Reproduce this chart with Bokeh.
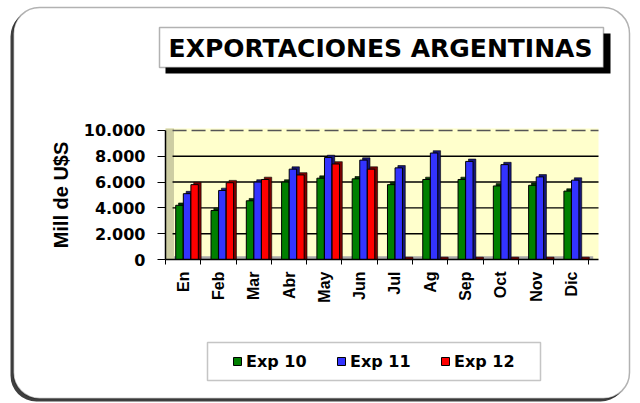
import math
from bokeh.plotting import figure
from bokeh.models import Range1d, FixedTicker, BoxAnnotation, Label, LinearAxis
from bokeh.embed import file_html
from bokeh.resources import INLINE

# ---- data ----
months = ["En", "Feb", "Mar", "Abr", "May", "Jun", "Jul", "Ag", "Sep", "Oct", "Nov", "Dic"]
exp10 = [4200, 3800, 4550, 6000, 6300, 6250, 5800, 6200, 6200, 5700, 5750, 5300]
exp11 = [5100, 5350, 6000, 7000, 7900, 7700, 7100, 8250, 7600, 7350, 6400, 6150]
exp12 = [5800, 5950, 6200, 6550, 7400, 7000, 0, 0, 0, 0, 0, 0]
series_names = ["Exp 10", "Exp 11", "Exp 12"]
ytick_values = [0, 2000, 4000, 6000, 8000, 10000]
ytick_labels = ["0", "2.000", "4.000", "6.000", "8.000", "10.000"]
title_text = "EXPORTACIONES ARGENTINAS"
ylabel_text = "Mill de U$S"

# ---- layout (canvas pixels) ----
W, H = 640, 403
FX0, FX1 = 165, 598          # chart wall left/right
FY0, FY1 = 259, 128          # chart floor / wall top
XMAX, YMAX = 12.27, 10150
PXX = (FX1 - FX0) / XMAX
PXY = (FY0 - FY1) / YMAX


def dx(px):
    return (px - FX0) / PXX


def dy(py):
    return (FY0 - py) / PXY


p = figure(width=W, height=H, x_range=Range1d(dx(0), dx(W)), y_range=Range1d(dy(H), dy(0)),
           output_backend="svg", toolbar_location=None, x_axis_type=None, y_axis_type=None,
           min_border=0)
p.title.visible = False
p.outline_line_color = None
p.background_fill_color = "white"
p.border_fill_color = "white"
p.xgrid.visible = False
p.ygrid.visible = False

# outer rounded card with shadow
p.add_layout(BoxAnnotation(left=dx(10), right=dx(626), top=dy(10), bottom=dy(401),
                           fill_color="#2a2a2a", fill_alpha=0.9, line_color=None,
                           border_radius=26, level="underlay"))
p.add_layout(BoxAnnotation(left=dx(13), right=dx(629), top=dy(7), bottom=dy(398),
                           fill_color="white", fill_alpha=1, line_color="black",
                           line_width=1.5, border_radius=26, level="underlay"))
# chart wall, side wall, floor
p.add_layout(BoxAnnotation(left=0, right=XMAX, top=YMAX, bottom=0,
                           fill_color="#FFFFCC", fill_alpha=1, line_color=None, level="underlay"))
p.add_layout(BoxAnnotation(left=0, right=0.24, top=YMAX, bottom=0,
                           fill_color="#CDCDA3", fill_alpha=1, line_color=None, level="underlay"))
p.add_layout(BoxAnnotation(left=0.24, right=XMAX - 0.15, top=260, bottom=0,
                           fill_color="#A8A8A8", fill_alpha=1, line_color=None, level="underlay"))
# title box with shadow
p.add_layout(BoxAnnotation(left=dx(165), right=dx(610), top=dy(33), bottom=dy(73),
                           fill_color="black", fill_alpha=1, line_color=None, level="underlay"))
p.add_layout(BoxAnnotation(left=dx(159), right=dx(603), top=dy(27), bottom=dy(67),
                           fill_color="white", fill_alpha=1, line_color="black", line_width=1.5,
                           level="underlay"))
# legend box
p.add_layout(BoxAnnotation(left=dx(207), right=dx(540), top=dy(342), bottom=dy(380),
                           fill_color="white", fill_alpha=1, line_color="#404040", line_width=1.5,
                           level="underlay"))

# grid lines on the wall
grid_vals = ytick_values[1:-1]
p.segment(x0=[0.2] * len(grid_vals), x1=[XMAX] * len(grid_vals), y0=grid_vals, y1=grid_vals,
          line_color="black", line_width=1.4)
p.segment(x0=[0.2], x1=[XMAX], y0=[ytick_values[-1]], y1=[ytick_values[-1]],
          line_color="#555555", line_width=1.5, line_dash="14 5")

# bars
colors = ["#008000", "#3333FF", "#FF0000"]
sides = ["#003A00", "#16167A", "#7A0000"]
offsets = [0.395, 0.61, 0.825]
for vals, name, c, s, off in zip([exp10, exp11, exp12], series_names, colors, sides, offsets):
    xs = [i + off for i in range(len(months))]
    p.vbar(x=[x + 0.08 for x in xs], bottom=0, top=[v + 180 for v in vals], width=0.21,
           fill_color=s, line_color="black", line_width=0.6)
    p.vbar(x=xs, bottom=0, top=vals, width=0.21, fill_color=c, line_color="black",
           line_width=1, legend_label=name)

# axes
yax = LinearAxis(fixed_location=0, bounds=(0, ytick_values[-1]))
yax.ticker = FixedTicker(ticks=ytick_values)
yax.major_label_overrides = {v: t for v, t in zip(ytick_values, ytick_labels)}
yax.major_label_text_font = "DejaVu Sans"
yax.major_label_text_font_style = "bold"
yax.major_label_text_font_size = "16px"
yax.major_label_text_color = "black"
yax.major_tick_out = 8
yax.major_tick_in = 0
yax.minor_tick_out = 0
yax.minor_tick_in = 0
yax.major_tick_line_color = "black"
yax.axis_line_color = "black"
yax.axis_line_width = 1.5
yax.major_label_standoff = 12
yax.axis_label = ylabel_text
yax.axis_label_text_font = "Liberation Sans"
yax.axis_label_text_font_style = "bold"
yax.axis_label_text_font_size = "20px"
yax.axis_label_text_color = "black"
yax.axis_label_standoff = 9
p.add_layout(yax, "left")

xax = LinearAxis(fixed_location=0, bounds=(0, XMAX))
xax.ticker = FixedTicker(ticks=[i + 0.5 for i in range(len(months))],
                         minor_ticks=list(range(len(months) + 1)))
xax.major_label_overrides = {i + 0.5: m for i, m in enumerate(months)}
xax.major_label_orientation = math.pi / 2
xax.major_label_text_font = "Liberation Sans"
xax.major_label_text_font_style = "bold"
xax.major_label_text_font_size = "16px"
xax.major_label_text_color = "black"
xax.major_tick_out = 0
xax.major_tick_in = 0
xax.minor_tick_out = 5
xax.minor_tick_in = 0
xax.minor_tick_line_color = "black"
xax.axis_line_color = "black"
xax.axis_line_width = 1.5
xax.major_label_standoff = 7
p.add_layout(xax, "below")

# title
p.add_layout(Label(x=dx(380), y=dy(47.5), text=title_text, text_align="center",
                   text_baseline="middle", text_font="DejaVu Sans", text_font_style="bold",
                   text_font_size="25px", text_color="black"))

# legend
lg = p.legend[0]
lg.orientation = "horizontal"
lg.location = (232, H - 371)
lg.glyph_width = 10
lg.glyph_height = 10
lg.label_standoff = 4
lg.label_width = 66
lg.label_height = 20
lg.spacing = 24
lg.padding = 0
lg.margin = 0
lg.border_line_alpha = 0
lg.background_fill_alpha = 0
lg.label_text_font = "DejaVu Sans"
lg.label_text_font_style = "bold"
lg.label_text_font_size = "16px"
lg.label_text_color = "black"

open("out.html", "w").write(file_html(p, INLINE))
